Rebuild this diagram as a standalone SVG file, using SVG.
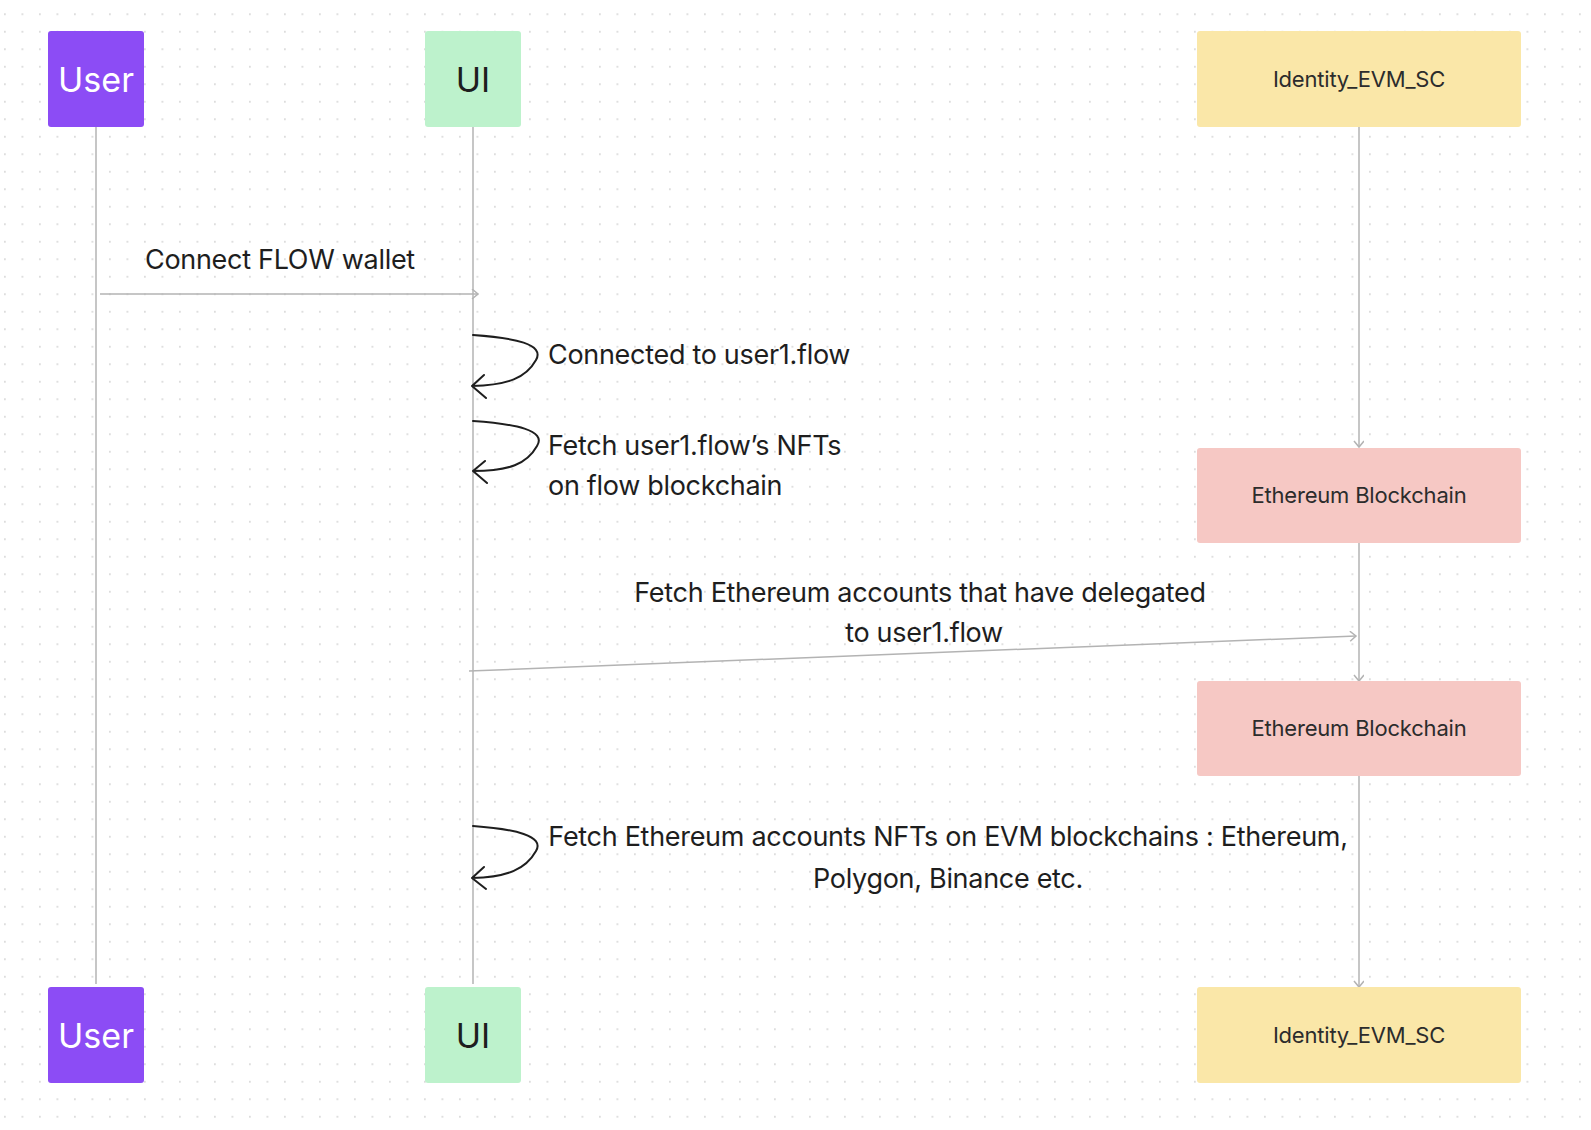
<svg xmlns="http://www.w3.org/2000/svg" width="1591" height="1130" viewBox="0 0 1591 1130">
<defs>
<pattern id="dots" x="4" y="13.3" width="17.5" height="17.5" patternUnits="userSpaceOnUse">
<circle cx="0.9" cy="0.9" r="0.9" fill="#cfcfcf"/>
</pattern>
<marker id="ga" markerWidth="12" markerHeight="12" refX="9" refY="5" orient="auto" markerUnits="userSpaceOnUse">
<path d="M3,0 L9,5 L3,10" fill="none" stroke="#b3b3b3" stroke-width="1.5"/>
</marker>
</defs>
<style>
.lbl{font-family:Inter,"Liberation Sans",sans-serif;font-size:27px;letter-spacing:-0.3px;fill:#1e1e1e}
.big{font-family:Inter,"Liberation Sans",sans-serif;font-size:34px}
.sm{font-family:Inter,"Liberation Sans",sans-serif;font-size:22px;letter-spacing:-0.2px;fill:#2c2c2c}
.life{stroke:#b3b3b3;stroke-width:1.5;fill:none}
.self{stroke:#1e1e1e;stroke-width:2;fill:none;stroke-linecap:round;stroke-linejoin:round}
</style>
<rect width="1591" height="1130" fill="#ffffff"/>
<rect width="1591" height="1130" fill="url(#dots)"/>

<g id="connectors">
<line class="life" x1="96" y1="127" x2="96" y2="984"/>
<line class="life" x1="473" y1="127" x2="473" y2="984"/>
<line class="life" x1="1359" y1="127" x2="1359" y2="447" marker-end="url(#ga)"/>
<line class="life" x1="1359" y1="543" x2="1359" y2="681" marker-end="url(#ga)"/>
<line class="life" x1="1359" y1="776" x2="1359" y2="987" marker-end="url(#ga)"/>
<line class="life" x1="100" y1="294" x2="478" y2="294" marker-end="url(#ga)"/>
<line class="life" x1="469" y1="671" x2="1356" y2="636" marker-end="url(#ga)"/>
<path class="self" d="M473,335 C515,338 545,344 536,360 C526,378 508,385 472,386 M484,375 L472,386 L486,398"/>
<path class="self" d="M473,421 C515,424 547,430 537,446 C527,464 509,471 473,471 M485,461 L473,471 L487,483"/>
<path class="self" d="M473,826 C515,829 545,836 536,851 C526,869 508,877 472,878 M484,867 L472,878 L486,889"/>
</g>

<g id="labels">
<text class="lbl" x="145" y="269">Connect FLOW wallet</text>
<text class="lbl" x="548" y="364">Connected to user1.flow</text>
<text class="lbl" x="548" y="455">Fetch user1.flow’s NFTs</text>
<text class="lbl" x="548" y="495">on flow blockchain</text>
<text class="lbl" x="920" y="602" text-anchor="middle">Fetch Ethereum accounts that have delegated</text>
<text class="lbl" x="924" y="642" text-anchor="middle">to user1.flow</text>
<text class="lbl" x="948" y="846" text-anchor="middle">Fetch Ethereum accounts NFTs on EVM blockchains : Ethereum,</text>
<text class="lbl" x="948" y="888" text-anchor="middle">Polygon, Binance etc.</text>
</g>

<g id="user-top">
<rect x="48" y="31" width="96" height="96" rx="3" fill="#8c4cf5"/>
<text class="big" x="96" y="92" text-anchor="middle" fill="#ffffff">User</text>
</g>
<g id="ui-top">
<rect x="425" y="31" width="96" height="96" rx="3" fill="#bdf2cc"/>
<text class="big" x="473" y="92" text-anchor="middle" fill="#1e1e1e">UI</text>
</g>
<g id="identity-top">
<rect x="1197" y="31" width="324" height="96" rx="3" fill="#fae7a8"/>
<text class="sm" x="1359" y="87" text-anchor="middle">Identity_EVM_SC</text>
</g>
<g id="eth1">
<rect x="1197" y="448" width="324" height="95" rx="3" fill="#f6c8c4"/>
<text class="sm" x="1359" y="503" text-anchor="middle">Ethereum Blockchain</text>
</g>
<g id="eth2">
<rect x="1197" y="681" width="324" height="95" rx="3" fill="#f6c8c4"/>
<text class="sm" x="1359" y="736" text-anchor="middle">Ethereum Blockchain</text>
</g>
<g id="user-bottom">
<rect x="48" y="987" width="96" height="96" rx="3" fill="#8c4cf5"/>
<text class="big" x="96" y="1048" text-anchor="middle" fill="#ffffff">User</text>
</g>
<g id="ui-bottom">
<rect x="425" y="987" width="96" height="96" rx="3" fill="#bdf2cc"/>
<text class="big" x="473" y="1048" text-anchor="middle" fill="#1e1e1e">UI</text>
</g>
<g id="identity-bottom">
<rect x="1197" y="987" width="324" height="96" rx="3" fill="#fae7a8"/>
<text class="sm" x="1359" y="1043" text-anchor="middle">Identity_EVM_SC</text>
</g>
</svg>
